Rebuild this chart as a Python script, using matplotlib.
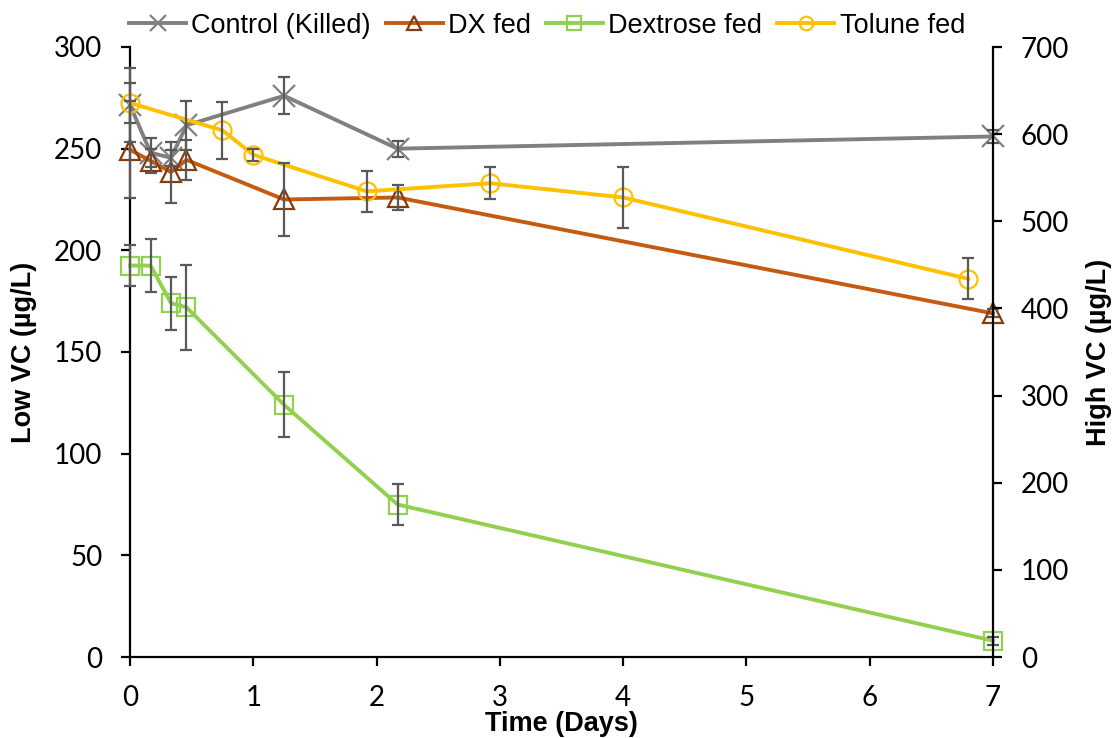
import matplotlib
matplotlib.use("Agg")
import matplotlib.pyplot as plt

plt.rcParams['font.family'] = ['Liberation Sans Narrow', 'Liberation Sans', 'DejaVu Sans']

# Sampling times (days)
days_main = [0, 0.167, 0.333, 0.458, 1.25, 2.17, 7]
days_tolune = [0, 0.75, 1.0, 1.92, 2.92, 4.0, 6.8]

# Concentrations (µg/L) and standard errors
control = [271.5, 248, 245.5, 261.5, 276, 250, 256]
control_err = [18, 7, 4, 12, 9, 4, 3]

dx_fed = [249.5, 244, 238.5, 244.5, 225, 226, 169]
dx_err = [24, 6, 15, 10, 18, 6, 2]

dextrose = [192.5, 192.5, 174, 172, 124, 75, 8]
dextrose_err = [10, 13, 13, 21, 16, 10, 2]

tolune = [272.5, 259, 247, 229, 233, 226, 186]
tolune_err = [10, 14, 3, 10, 8, 15, 10]

series = [
    ("Control (Killed)", days_main, control, control_err, "#808080", "#808080", "x", 15.5),
    ("DX fed", days_main, dx_fed, dx_err, "#C55A11", "#843C0C", "^", 14),
    ("Dextrose fed", days_main, dextrose, dextrose_err, "#92D050", "#92D050", "s", 13),
    ("Tolune fed", days_tolune, tolune, tolune_err, "#FFC000", "#FFC000", "o", 13),
]

fig = plt.figure(figsize=(11.15, 7.38), dpi=100)
ax = fig.add_axes([130 / 1115, 81 / 738, 863 / 1115, 610 / 738])

for label, xs, ys, errs, color, edge, marker, ms in series:
    ax.plot(xs, ys, color=color, lw=2.8, marker=marker, ms=ms,
            markerfacecolor="none", markeredgecolor=edge, markeredgewidth=1.6,
            label=label, zorder=3, clip_on=False)
    ax.errorbar(xs, ys, yerr=errs, fmt="none", ecolor="#595959", elinewidth=1.6,
                capsize=4.3, capthick=1.6, zorder=4, clip_on=False)

ax.set_xlim(0, 7)
ax.set_ylim(0, 300)
ax.set_xticks(range(0, 8))
ax.set_yticks(range(0, 301, 50))

tick_family = ['Lato', 'DejaVu Sans']
for lab in ax.get_xticklabels() + ax.get_yticklabels():
    lab.set_fontsize(20)
    lab.set_fontfamily(tick_family)

ax.spines['top'].set_visible(False)
ax.spines['right'].set_visible(False)
for s in ('left', 'bottom'):
    ax.spines[s].set_linewidth(1.6)
ax.tick_params(direction='out', length=6.5, width=1.6, pad=13.5)

ax2 = ax.twinx()
ax2.set_ylim(0, 700)
ax2.set_yticks(range(0, 701, 100))
for lab in ax2.get_yticklabels():
    lab.set_fontsize(20)
    lab.set_fontfamily(tick_family)
ax2.spines['top'].set_visible(False)
ax2.spines['left'].set_visible(False)
ax2.spines['bottom'].set_visible(False)
ax2.spines['right'].set_linewidth(1.6)
ax2.tick_params(direction='out', length=6.5, width=1.6, pad=13.5)

label_font = dict(fontsize=19.5, fontweight='bold',
                  family=['Liberation Sans Narrow', 'Liberation Sans', 'DejaVu Sans'])
ax.set_xlabel("Time (Days)", labelpad=0, **label_font)
ax.set_ylabel("Low VC (µg/L)", labelpad=12, **label_font)
ax2.set_ylabel("High VC (µg/L)", labelpad=12, **label_font)

handles, labels = ax.get_legend_handles_labels()
fig.legend(handles, labels, loc='upper center', bbox_to_anchor=(0.4906, 1.016), ncol=4,
           frameon=False, fontsize=19.5, handlelength=2.1, columnspacing=0.55,
           handletextpad=0.2, markerscale=0.75)

fig.savefig("out.png", dpi=100)
